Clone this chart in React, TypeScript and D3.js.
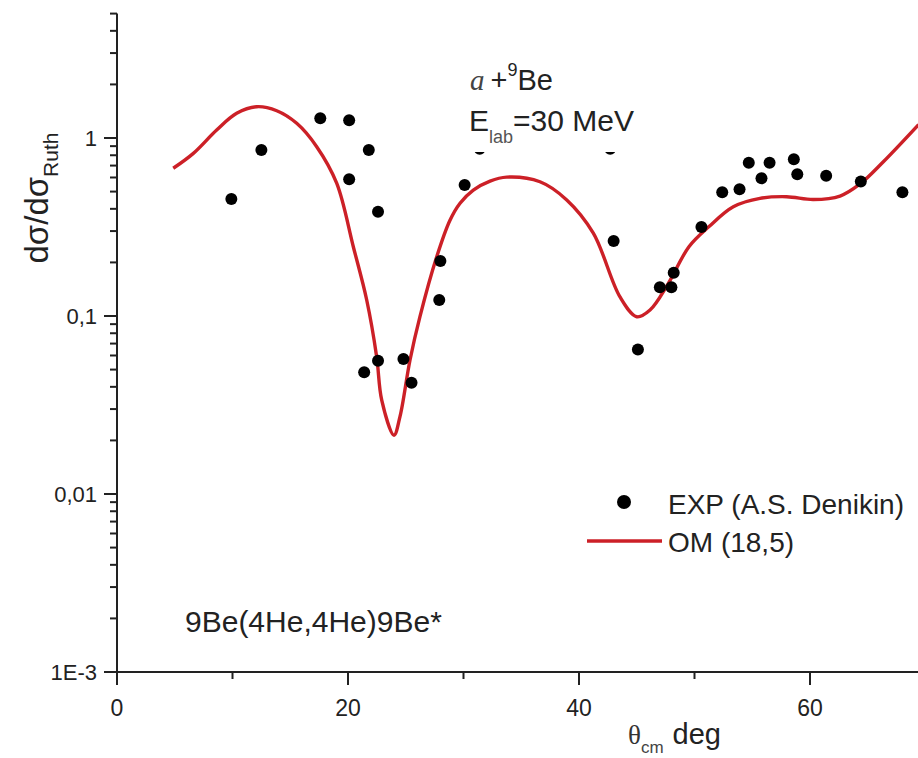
import React from "react";
import * as d3 from "d3";

// Experimental angular distribution, θcm (deg) vs dσ/dσRuth
const thetaExp = [9.9, 12.5, 17.6, 20.1, 20.1, 21.8, 22.6, 21.4, 22.6, 24.8, 25.5, 27.9, 28.0, 30.1, 31.4, 42.7, 43.0, 45.1, 47.0, 48.0, 48.2, 50.6, 52.4, 53.9, 54.7, 55.8, 56.5, 58.6, 58.9, 61.4, 64.4, 68.0];
const sigmaExp = [0.454, 0.856, 1.29, 1.26, 0.586, 0.856, 0.385, 0.0483, 0.0561, 0.0573, 0.0422, 0.123, 0.204, 0.544, 0.87, 0.87, 0.264, 0.0648, 0.145, 0.145, 0.175, 0.316, 0.495, 0.516, 0.726, 0.594, 0.726, 0.759, 0.626, 0.614, 0.57, 0.495];

// Optical model calculation
const thetaOM = [4.87, 6.61, 8.63, 10.36, 12.1, 13.83, 15.56, 17.29, 19.02, 20.46, 21.62, 22.48, 22.92, 23.98, 24.5, 25.37, 26.23, 27.68, 28.83, 29.7, 30.85, 32.3, 33.74, 36.62, 38.94, 41.24, 43.55, 45.0, 46.15, 47.7, 49.52, 51.26, 53.36, 55.67, 57.98, 60.29, 62.6, 64.33, 66.35, 69.4];
const sigmaOM = [0.676, 0.82, 1.109, 1.376, 1.499, 1.423, 1.209, 0.894, 0.557, 0.245, 0.123, 0.0591, 0.0337, 0.0214, 0.0272, 0.0566, 0.0991, 0.215, 0.345, 0.43, 0.51, 0.573, 0.603, 0.568, 0.449, 0.292, 0.128, 0.099, 0.108, 0.151, 0.245, 0.318, 0.411, 0.458, 0.468, 0.451, 0.472, 0.552, 0.736, 1.19];

const xMajorTicks = [0, 20, 40, 60];
const xMinorTicks = [10, 30, 50, 70];
const yMajorTicks = [1e-3, 1e-2, 1e-1, 1];
const yMajorLabels = ["1E-3", "0,01", "0,1", "1"];

const W = 918;
const H = 758;
const X0 = 117;
const Y0 = 672;
const AXIS = "#222";
const RED = "#cc2027";

export default function App() {
  const x = d3.scaleLinear().domain([0, 70]).range([X0, X0 + 70 * 11.55]);
  const yTop = Y0 - 178 * Math.log10(5 / 1e-3);
  const y = d3.scaleLog().domain([1e-3, 5]).range([Y0, yTop]);

  const yMinor: number[] = [];
  for (const dec of [1e-3, 1e-2, 1e-1, 1]) {
    for (let k = 2; k <= 9; k++) {
      const v = dec * k;
      if (v <= 5.0001) yMinor.push(v);
    }
  }

  const line = d3
    .line<number>()
    .x((_, i) => x(thetaOM[i]))
    .y((v) => y(v))
    .curve(d3.curveCatmullRom.alpha(0.5));

  const sans = "'Liberation Sans', Arial, sans-serif";
  const serif = "'Liberation Serif', 'Times New Roman', serif";

  return (
    <svg
      width={W}
      height={H}
      style={{ position: "absolute", left: 0, top: 0, background: "#fff" }}
      fontFamily={sans}
    >
      <defs>
        <clipPath id="plot">
          <rect x={X0} y={0} width={W - X0} height={Y0} />
        </clipPath>
      </defs>

      {/* model curve */}
      <path
        d={line(sigmaOM) || ""}
        fill="none"
        stroke={RED}
        strokeWidth={3.4}
        strokeLinejoin="round"
        clipPath="url(#plot)"
      />

      {/* experimental points */}
      {thetaExp.map((t, i) => (
        <circle key={i} cx={x(t)} cy={y(sigmaExp[i])} r={6} fill="#000" />
      ))}

      {/* reaction / energy label on an opaque box */}
      <rect x={440} y={52} width={228} height={100} fill="#fff" />
      <text x={470} y={90} fontSize={29} fill="#222">
        <tspan fontFamily={serif} fontStyle="italic" fill="#444">a</tspan>
        <tspan dx={6}>+</tspan>
        <tspan fontSize={18} dy={-14}>9</tspan>
        <tspan dy={14}>Be</tspan>
      </text>
      <text x={469} y={131} fontSize={30} fill="#222">
        E<tspan fontSize={18} dy={12} fill="#555">lab</tspan>
        <tspan dy={-12}>=30 MeV</tspan>
      </text>

      {/* axes */}
      <line x1={X0} x2={W} y1={Y0} y2={Y0} stroke={AXIS} strokeWidth={2} />
      <line x1={X0} x2={X0} y1={yTop} y2={Y0} stroke={AXIS} strokeWidth={2} />

      {xMajorTicks.map((t) => (
        <g key={"xm" + t}>
          <line x1={x(t)} x2={x(t)} y1={Y0} y2={Y0 + 13} stroke={AXIS} strokeWidth={2} />
          <text x={x(t)} y={716} fontSize={23} textAnchor="middle" fill="#222">
            {t}
          </text>
        </g>
      ))}
      {xMinorTicks.map((t) => (
        <line key={"xn" + t} x1={x(t)} x2={x(t)} y1={Y0} y2={Y0 + 7} stroke={AXIS} strokeWidth={2} />
      ))}

      {yMajorTicks.map((v, i) => (
        <g key={"ym" + i}>
          <line x1={X0 - 13} x2={X0} y1={y(v)} y2={y(v)} stroke={AXIS} strokeWidth={2} />
          <text x={97} y={y(v) + 8} fontSize={22} textAnchor="end" fill="#222">
            {yMajorLabels[i]}
          </text>
        </g>
      ))}
      {yMinor.map((v, i) => (
        <line key={"yn" + i} x1={X0 - 7} x2={X0} y1={y(v)} y2={y(v)} stroke={AXIS} strokeWidth={2} />
      ))}

      {/* axis titles */}
      <text transform="translate(48,198) rotate(-90)" fontSize={33} textAnchor="middle" fill="#222">
        dσ/dσ<tspan fontSize={21} dy={10}>Ruth</tspan>
      </text>
      <text x={628} y={744} fontSize={27} fill="#333">
        <tspan fontFamily={serif}>θ</tspan>
        <tspan fontSize={17} dy={9} fill="#444">cm</tspan>
        <tspan dy={-9} dx={9} fontSize={29} fill="#222">deg</tspan>
      </text>

      {/* reaction note */}
      <text x={185} y={632} fontSize={30} fill="#222">
        9Be(4He,4He)9Be*
      </text>

      {/* legend */}
      <circle cx={624} cy={502} r={7} fill="#000" />
      <text x={668} y={514} fontSize={28} fill="#222">
        EXP (A.S. Denikin)
      </text>
      <line x1={587} x2={662} y1={541} y2={541} stroke={RED} strokeWidth={3.4} />
      <text x={668} y={552} fontSize={28} fill="#222">
        OM (18,5)
      </text>
    </svg>
  );
}
